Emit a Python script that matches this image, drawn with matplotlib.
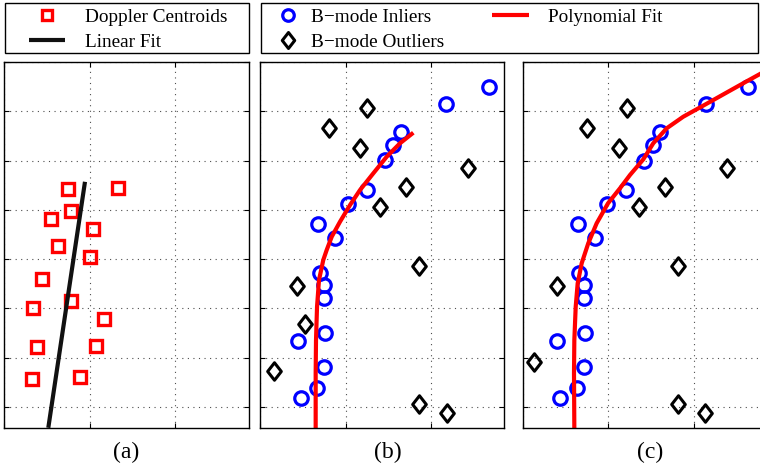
import numpy as np
import matplotlib
matplotlib.use("Agg")
import matplotlib.pyplot as plt
from matplotlib.patches import Rectangle
from matplotlib.lines import Line2D
from matplotlib.path import Path

plt.rcParams['font.family'] = ['Liberation Serif', 'DejaVu Serif']

# ---------------- data ----------------
# panel (a): Doppler centroids and linear fit
doppler_x = [0.745, 1.333, 0.784, 0.550, 1.041, 0.628, 1.009, 0.444, 0.780,
             0.336, 1.166, 0.382, 1.076, 0.327, 0.892]
doppler_y = [2.58, 2.56, 3.03, 3.18, 3.39, 3.73, 3.95, 4.40, 4.84,
             5.00, 5.22, 5.78, 5.77, 6.44, 6.39]
linfit_x = [0.947, 0.518]
linfit_y = [2.43, 7.42]

# panel (b)
b_in_x = [2.682, 2.175, 1.649, 1.559, 1.462, 1.251, 1.029, 0.682, 0.877,
          0.702, 0.752, 0.752, 0.760, 0.448, 0.749, 0.667, 0.480]
b_in_y = [0.50, 0.86, 1.43, 1.68, 1.99, 2.59, 2.88, 3.29, 3.56,
          4.29, 4.52, 4.78, 5.50, 5.65, 6.19, 6.62, 6.82]
b_out_x = [1.248, 0.804, 1.173, 2.436, 1.708, 1.404, 1.860, 0.436, 0.526,
           0.167, 1.860, 2.187]
b_out_y = [0.94, 1.34, 1.74, 2.14, 2.54, 2.94, 4.13, 4.54, 5.32,
           6.27, 6.93, 7.11]
b_fit_x = [1.793, 1.637, 1.482, 1.325, 1.170, 1.053, 0.936, 0.839, 0.780,
           0.740, 0.690, 0.667, 0.655, 0.651, 0.651]
b_fit_y = [1.434, 1.649, 1.921, 2.258, 2.596, 2.901, 3.239, 3.544, 3.813,
           4.016, 4.422, 4.963, 5.639, 6.314, 7.430]

# panel (c)
c_in_x = [2.632, 2.144, 1.606, 1.520, 1.422, 1.205, 0.989, 0.643, 0.842,
          0.662, 0.717, 0.717, 0.725, 0.405, 0.717, 0.632, 0.436]
c_in_y = [0.50, 0.86, 1.43, 1.68, 2.01, 2.59, 2.89, 3.29, 3.58,
          4.29, 4.52, 4.78, 5.50, 5.65, 6.19, 6.61, 6.82]
c_out_x = [1.221, 0.756, 1.130, 2.393, 1.664, 1.364, 1.820, 0.398, 0.136,
           1.820, 2.132]
c_out_y = [0.94, 1.34, 1.74, 2.14, 2.54, 2.94, 4.13, 4.54, 6.08,
           6.93, 7.11]
c_fit_x = [2.857, 2.776, 2.620, 2.386, 2.140, 1.878, 1.684, 1.527, 1.411,
           1.255, 1.138, 0.998, 0.865, 0.767, 0.690, 0.643, 0.620, 0.604,
           0.600, 0.604]
c_fit_y = [0.162, 0.243, 0.392, 0.619, 0.858, 1.110, 1.345, 1.649, 1.974,
           2.292, 2.562, 2.866, 3.272, 3.677, 4.083, 4.489, 4.963, 5.639,
           6.314, 7.430]

x_ticks = [0, 1, 2]
y_ticks = [0, 1, 2, 3, 4, 5, 6, 7]
panel_labels = ['(a)', '(b)', '(c)']
legend_a = ['Doppler Centroids', 'Linear Fit']
legend_b1 = ['B\u2212mode Inliers', 'B\u2212mode Outliers']
legend_b2 = ['Polynomial Fit']

# ---------------- layout ----------------
W, H = 760, 466
fig = plt.figure(figsize=(W / 100, H / 100), dpi=100)
FS = 13.9


def px_rect(left, top, right, bottom):
    return [left / W, 1 - bottom / H, (right - left) / W, (bottom - top) / H]


def style(ax, xmax):
    ax.set_xlim(0, xmax)
    ax.set_ylim(7.424, 0)
    ax.set_xticks(x_ticks)
    ax.set_yticks(y_ticks)
    ax.tick_params(direction='in', length=3.5, width=0.8, top=True, right=True,
                   labelleft=False, labelbottom=False)
    ax.grid(True, linestyle=(0, (1, 4)), color='0.3', linewidth=0.8)
    for s in ax.spines.values():
        s.set_linewidth(1.0)
        s.set_color('black')


diamond = Path([(0, 1), (0.78, 0), (0, -1), (-0.78, 0), (0, 1)],
               [Path.MOVETO, Path.LINETO, Path.LINETO, Path.LINETO, Path.CLOSEPOLY])

sq_kw = dict(marker='s', ls='none', mfc='none', mec='red', ms=8.6, mew=2.4)
in_kw = dict(marker='o', ls='none', mfc='none', mec='blue', ms=9.7, mew=2.3)
out_kw = dict(marker=diamond, ls='none', mfc='none', mec='black', ms=12.6, mew=2.2)
lin_kw = dict(color='#111111', lw=3.0, solid_capstyle='butt')
fit_kw = dict(color='red', lw=3.0, solid_capstyle='butt', solid_joinstyle='round')

ax_a = fig.add_axes(px_rect(4, 62, 249, 428))
style(ax_a, 2.865)
ax_a.plot(doppler_x, doppler_y, **sq_kw)
ax_a.plot(linfit_x, linfit_y, **lin_kw)

ax_b = fig.add_axes(px_rect(260, 62, 504.3, 428))
style(ax_b, 2.857)
ax_b.plot(b_in_x, b_in_y, **in_kw)
ax_b.plot(b_out_x, b_out_y, **out_kw)
ax_b.plot(b_fit_x, b_fit_y, **fit_kw)

ax_c = fig.add_axes(px_rect(522.7, 62, 767.2, 428))
style(ax_c, 2.86)
ax_c.plot(c_in_x, c_in_y, **in_kw)
ax_c.plot(c_out_x, c_out_y, **out_kw)
ax_c.plot(c_fit_x, c_fit_y, **fit_kw)

for lab, xc in zip(panel_labels, [126, 388, 650]):
    fig.text(xc / W, 1 - 452 / H, lab, ha='center', va='center', fontsize=17)

# legend frames
for (l, t, r, b) in [(5, 3, 249, 53), (261, 3, 758, 53)]:
    fig.add_artist(Rectangle((l / W, 1 - b / H), (r - l) / W, (b - t) / H,
                             transform=fig.transFigure, fill=False,
                             edgecolor='black', linewidth=1.0))

h_sq = Line2D([], [], **dict(sq_kw, ms=7.2))
h_lin = Line2D([], [], **lin_kw)
h_in = Line2D([], [], **dict(in_kw, ms=8.3))
h_out = Line2D([], [], **dict(out_kw, ms=11.5))
h_fit = Line2D([], [], **fit_kw)

common = dict(loc='upper left', frameon=False, borderpad=0, borderaxespad=0,
              fontsize=FS, labelspacing=0.4, handleheight=0.7)
fig.legend([h_sq, h_lin], legend_a, bbox_to_anchor=(29 / W, 1 - 8.2 / H),
           handlelength=1.875, handletextpad=1.04, **common)
fig.legend([h_in, h_out], legend_b1, bbox_to_anchor=(270 / W, 1 - 8.2 / H),
           handlelength=1.875, handletextpad=0.26, **common)
fig.legend([h_fit], legend_b2, bbox_to_anchor=(492 / W, 1 - 8.2 / H),
           handlelength=1.93, handletextpad=0.99, **common)

fig.savefig('out.png', dpi=100)
